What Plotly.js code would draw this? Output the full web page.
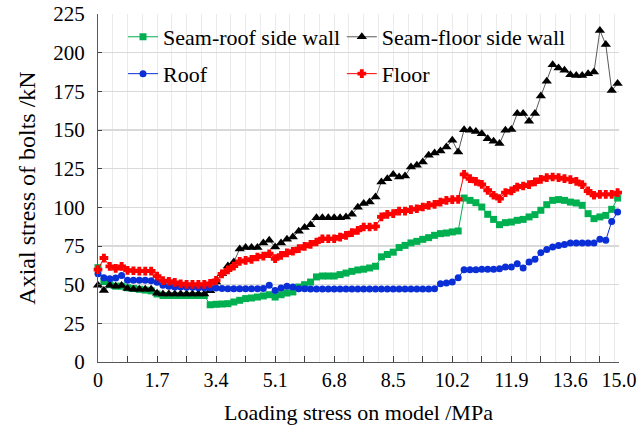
<!DOCTYPE html>
<html>
<head>
<meta charset="utf-8">
<script src="https://cdn.plot.ly/plotly-3.0.1.min.js"></script>
<style>
  html, body { margin: 0; padding: 0; background: #ffffff; }
  #chart { width: 643px; height: 430px; }
</style>
</head>
<body>
<div id="chart"></div>
<script>
// Loading stress on model (MPa)
const loadingStress = [0, 0.17, 0.34, 0.51, 0.68, 0.85, 1.02, 1.19, 1.36, 1.53,
  1.7, 1.87, 2.04, 2.21, 2.38, 2.55, 2.72, 2.89, 3.06, 3.23,
  3.4, 3.57, 3.74, 3.91, 4.08, 4.25, 4.42, 4.59, 4.76, 4.93,
  5.1, 5.27, 5.44, 5.61, 5.78, 5.95, 6.12, 6.29, 6.46, 6.63,
  6.8, 6.97, 7.14, 7.31, 7.48, 7.65, 7.82, 7.99, 8.16, 8.33,
  8.5, 8.67, 8.84, 9.01, 9.18, 9.35, 9.52, 9.69, 9.86, 10.03,
  10.2, 10.37, 10.54, 10.71, 10.88, 11.05, 11.22, 11.39, 11.56, 11.73,
  11.9, 12.07, 12.24, 12.41, 12.58, 12.75, 12.92, 13.09, 13.26, 13.43,
  13.6, 13.77, 13.94, 14.11, 14.28, 14.45, 14.62, 14.79, 14.96];

// Axial stress of bolts (kN)
const seamRoofSideWall = [61, 52, 50, 49, 49, 48, 47.5, 47, 46.5, 46,
  44, 43, 43, 43, 43, 43, 43, 43, 43, 37,
  37.3, 37.5, 37.7, 38.8, 39.9, 41, 41.4, 42, 42.7, 43.5,
  42, 43.5, 44.6, 45.3, 48.5, 50, 51.7, 55, 55.6, 55.6,
  55.6, 56.5, 57.5, 58.6, 59.5, 60, 60.8, 61.9, 68, 69.5,
  71, 74, 75.4, 77, 78, 79.3, 80.4, 81.9, 83, 83.4,
  84.1, 84.7, 106, 104.5, 103, 100.2, 95.5, 92.2, 88.8, 90.1,
  90.5, 91.6, 92.2, 93.8, 95.3, 98.1, 101.7, 104.5, 105, 104.5,
  103.4, 102.8, 101.3, 95.9, 92.7, 93.8, 94.8, 98.7, 106];

const seamFloorSideWall = [49.6, 46.3, 49.6, 49, 49.5, 47.5, 47, 47, 47, 47,
  44.5, 44, 44, 44, 44, 44, 44, 44, 44, 46,
  51.7, 57, 62, 64.7, 73, 74, 74, 74, 77, 78.7,
  74.4, 77, 79.3, 80.8, 84.5, 86.9, 88.8, 93.3, 93.3, 93.3,
  93.3, 93.3, 93.8, 95.5, 100, 102.4, 103.4, 106.7, 116.4, 118.5,
  121.3, 119.6, 120.3, 126.1, 127.2, 129.3, 133.6, 135.1, 136.4, 139,
  143.3, 135.8, 150.2, 149.8, 149.1, 147.6, 144.4, 142.7, 141.2, 149.8,
  150.4, 160.6, 160.6, 155.6, 160.6, 172, 181.5, 192.2, 190.1, 188.6,
  185.8, 185.3, 185.3, 186.4, 187.5, 214.4, 205.2, 175.6, 180];

const roof = [57, 54.5, 53.9, 54.3, 56, 52.8, 52.8, 52.8, 52.8, 52.6,
  51.5, 49.6, 49, 48.5, 48.5, 48.3, 48.3, 48, 48, 47.8,
  47.8, 47.6, 47.4, 47.4, 47.4, 47.4, 47.4, 47.4, 47.6, 49.6,
  46.3, 47.8, 49, 48.5, 47.4, 47.4, 47.2, 47.2, 47.2, 47.2,
  47.2, 47.2, 47.2, 47.2, 47.2, 47.2, 47.2, 47.2, 47.2, 47.2,
  47.2, 47.2, 47.2, 47.2, 47.2, 47.2, 47.2, 47.4, 50.6, 51.1,
  51.7, 54.5, 59.7, 59.7, 59.7, 60, 60, 60, 60.3, 61.4,
  61.4, 63.6, 60.8, 64.7, 66.4, 70.7, 72.8, 74.4, 75.4, 75.9,
  76.9, 76.9, 76.9, 76.9, 76.9, 79.3, 78.7, 90.9, 97];

const floor = [59.7, 67.2, 61.8, 60.5, 61.8, 59.3, 59, 58.8, 58.8, 58.8,
  55.5, 52.6, 52.2, 51.5, 50.6, 50.2, 50.2, 50.2, 50.2, 50.8,
  52.8, 57, 59.5, 62, 65, 65.7, 66.4, 67.9, 68.5, 70,
  66.8, 69, 70.5, 71.6, 73.3, 74.8, 76.1, 77.6, 79.7, 79.7,
  79.7, 80.8, 81.9, 83.6, 85.1, 87.3, 87.3, 87.7, 93.8, 95.5,
  95.9, 97.6, 97.6, 98.5, 99.1, 100.2, 101.3, 101.9, 103.4, 104.5,
  105, 105.2, 121.3, 118.5, 116.8, 114.8, 111, 107.8, 105.6, 109.5,
  110.6, 113.1, 113.8, 114.7, 116.4, 118.1, 119.2, 119.6, 119.2, 118.5,
  117.9, 116.8, 114.7, 110.6, 107.8, 108.4, 108.4, 108.4, 109.5];

// Axis ticks
const xTickValues = [0, 0.85, 1.7, 2.55, 3.4, 4.25, 5.1, 5.95, 6.8, 7.65, 8.5, 9.35,
  10.2, 11.05, 11.9, 12.75, 13.6, 14.45, 15.0];
const xTickLabels = ['0', '', '1.7', '', '3.4', '', '5.1', '', '6.8', '', '8.5', '',
  '10.2', '', '11.9', '', '13.6', '', '15.0'];
const yTickValues = [0, 25, 50, 75, 100, 125, 150, 175, 200, 225];

const serif = 'Liberation Serif';

function series(name, y, color, lineColor, symbol, size, outline, legend) {
  return {
    type: 'scatter', mode: 'lines+markers', name: name,
    x: loadingStress, y: y, legend: legend, cliponaxis: false,
    line: {color: lineColor, width: 1},
    marker: {color: color, symbol: symbol, size: size, line: {width: outline, color: color}}
  };
}

const traces = [
  series('Seam-roof side wall', seamRoofSideWall, '#00b050', '#00b050', 'square', 7, 0, 'legend'),
  series('Seam-floor side wall', seamFloorSideWall, '#000000', '#595959', 'triangle-up', 9, 0, 'legend2'),
  series('Roof', roof, '#0a2fd6', '#0a2fd6', 'circle', 7, 0, 'legend3'),
  series('Floor', floor, '#ff0000', '#ff0000', 'cross', 6, 1.5, 'legend4')
];

function legendAt(x, y) {
  return {
    orientation: 'v', xref: 'paper', yref: 'paper', xanchor: 'left', yanchor: 'middle',
    x: x, y: y, bgcolor: 'rgba(0,0,0,0)', borderwidth: 0,
    font: {family: serif, size: 22, color: '#000000'}
  };
}

const layout = {
  width: 643, height: 430,
  margin: {l: 98, r: 24, t: 14, b: 68},
  paper_bgcolor: '#ffffff', plot_bgcolor: '#ffffff',
  font: {family: serif, color: '#000000'},
  showlegend: true,
  legend: legendAt(0.048, 0.934),
  legend2: legendAt(0.468, 0.934),
  legend3: legendAt(0.048, 0.828),
  legend4: legendAt(0.468, 0.828),
  xaxis: {
    range: [0, 15.0], tickmode: 'array', tickvals: xTickValues, ticktext: xTickLabels,
    ticks: 'inside', ticklen: 6, tickcolor: '#404040', tickwidth: 1,
    showline: true, linecolor: '#595959', linewidth: 1,
    showgrid: true, gridcolor: '#ebebeb', gridwidth: 1,
    minor: {dtick: 0.425, tick0: 0, showgrid: true, gridcolor: '#ebebeb', gridwidth: 1, ticks: ''},
    zeroline: false,
    tickfont: {family: serif, size: 20, color: '#000000'},
    title: {text: 'Loading stress on model /MPa', font: {family: serif, size: 22, color: '#000000'}, standoff: 14}
  },
  yaxis: {
    range: [0, 225], tickmode: 'array', tickvals: yTickValues,
    ticks: 'inside', ticklen: 4, tickcolor: '#404040', tickwidth: 1,
    showline: true, linecolor: '#595959', linewidth: 1,
    showgrid: true, gridcolor: '#d9d9d9', gridwidth: 1.5,
    zeroline: false, ticklabelstandoff: 8,
    tickfont: {family: serif, size: 21, color: '#000000'},
    title: {text: 'Axial stress of bolts /kN', font: {family: serif, size: 24, color: '#000000'}, standoff: 10}
  }
};

Plotly.newPlot('chart', traces, layout, {displayModeBar: false, staticPlot: true});
</script>
</body>
</html>
